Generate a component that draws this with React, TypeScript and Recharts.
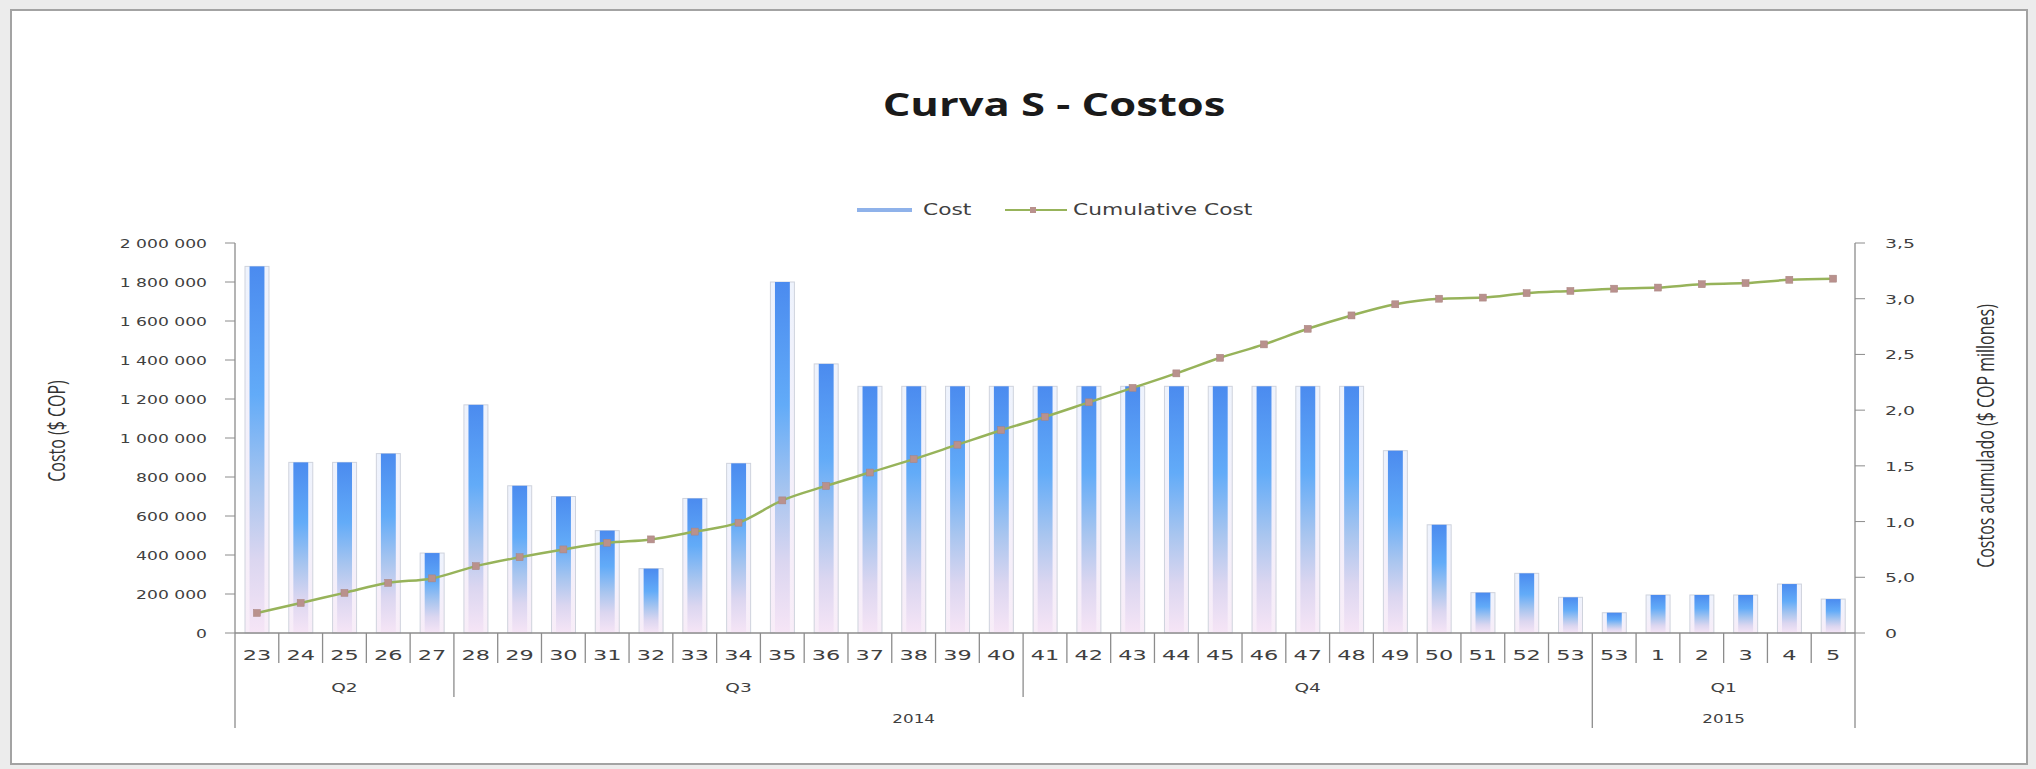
import {
  Bar,
  ComposedChart,
  Legend,
  Line,
  XAxis,
  YAxis,
} from "recharts";

const WEEKS = [
  "23", "24", "25", "26", "27", "28", "29", "30", "31", "32", "33", "34",
  "35", "36", "37", "38", "39", "40", "41", "42", "43", "44", "45", "46",
  "47", "48", "49", "50", "51", "52", "53", "53", "1", "2", "3", "4", "5",
];

const COST = [
  1880000, 875000, 875000, 920000, 410000, 1170000, 755000, 700000, 525000,
  330000, 690000, 870000, 1800000, 1380000, 1265000, 1265000, 1265000,
  1265000, 1265000, 1265000, 1265000, 1265000, 1265000, 1265000, 1265000,
  1265000, 935000, 555000, 207000, 306000, 183000, 104000, 195000, 195000,
  195000, 251000, 174000,
];

// en millones
const CUMULATIVE = [
  0.18, 0.27, 0.36, 0.45, 0.49, 0.6, 0.68, 0.75, 0.81, 0.84, 0.91, 0.99,
  1.19, 1.32, 1.44, 1.56, 1.69, 1.82, 1.94, 2.07, 2.2, 2.33, 2.47, 2.59,
  2.73, 2.85, 2.95, 3.0, 3.01, 3.05, 3.07, 3.09, 3.1, 3.13, 3.14, 3.17, 3.18,
];

const QUARTER_LABELS = ["Q2", "Q3", "Q4", "Q1"];
const QUARTER_SIZES = [5, 13, 13, 6];
const YEAR_LABELS = ["2014", "2015"];
const YEAR_SIZES = [31, 6];

const LEFT_TICKS = [
  0, 200000, 400000, 600000, 800000, 1000000, 1200000, 1400000, 1600000,
  1800000, 2000000,
];
const RIGHT_TICKS = [0, 0.5, 1, 1.5, 2, 2.5, 3, 3.5];
const RIGHT_TICK_LABELS = ["0", "5,0", "1,0", "1,5", "2,0", "2,5", "3,0", "3,5"];

const W = 2036;
const H = 769;
const LEFT_W = 235;
const RIGHT_W = 181;
const PLOT_W = W - LEFT_W - RIGHT_W;
const BAND = PLOT_W / WEEKS.length;

const AXIS = "#8c8c8c";
const TEXT = "#404040";
const MONO = "'DejaVu Sans', Verdana, sans-serif";

const data = WEEKS.map((week, i) => ({
  week,
  cost: COST[i],
  cumulative: CUMULATIVE[i],
}));

// index de début de chaque groupe -> [label, taille]
const groupStarts = (labels: string[], sizes: number[]) => {
  const out: Record<number, [string, number]> = {};
  let acc = 0;
  labels.forEach((l, i) => {
    out[acc] = [l, sizes[i]];
    acc += sizes[i];
  });
  return out;
};
const QUARTER_AT = groupStarts(QUARTER_LABELS, QUARTER_SIZES);
const YEAR_AT = groupStarts(YEAR_LABELS, YEAR_SIZES);

const fmtThousands = (v: number) =>
  String(v).replace(/\B(?=(\d{3})+(?!\d))/g, " ");

const Wide = ({ x, y, sx, size, anchor = "middle", children, ...rest }: any) => (
  <text
    transform={`translate(${x} ${y}) scale(${sx} 1)`}
    textAnchor={anchor}
    fontSize={size}
    fontFamily={MONO}
    fill={TEXT}
    {...rest}
  >
    {children}
  </text>
);

const WeekTick = (props: any) => {
  const { x, y, payload } = props;
  const i = props.index ?? payload.index;
  const left = x - BAND / 2;
  const q = QUARTER_AT[i];
  const yr = YEAR_AT[i];
  const lineLen = yr ? 95 : q ? 64 : 30;
  return (
    <g>
      <line x1={left} x2={left} y1={y} y2={y + lineLen} stroke={AXIS} strokeWidth={1.3} />
      {i === WEEKS.length - 1 && (
        <line x1={x + BAND / 2} x2={x + BAND / 2} y1={y} y2={y + 95} stroke={AXIS} strokeWidth={1.3} />
      )}
      <Wide x={x} y={y + 27} sx={1.6} size={14}>
        {payload.value}
      </Wide>
      {q && (
        <Wide x={left + (q[1] * BAND) / 2} y={y + 59} sx={1.55} size={12}>
          {q[0]}
        </Wide>
      )}
      {yr && (
        <Wide x={left + (yr[1] * BAND) / 2} y={y + 90} sx={1.4} size={12}>
          {yr[0]}
        </Wide>
      )}
    </g>
  );
};

const LeftTick = ({ x, y, payload }: any) => (
  <Wide x={x} y={y + 4.5} sx={1.43} size={12} anchor="end">
    {fmtThousands(payload.value)}
  </Wide>
);

const RightTick = ({ x, y, payload, index }: any) => (
  <Wide x={x} y={y + 5} sx={1.45} size={13} anchor="start">
    {RIGHT_TICK_LABELS[index ?? RIGHT_TICKS.indexOf(payload.value)]}
  </Wide>
);

const BarShape = ({ x, y, width, height }: any) => {
  if (!height || height <= 0) return null;
  const core = width * 0.62;
  return (
    <g>
      <rect x={x} y={y} width={width} height={height} fill="url(#barHalo)" stroke="#cfd3dd" strokeWidth={1} />
      <rect x={x + (width - core) / 2} y={y} width={core} height={height} fill="url(#barFill)" />
    </g>
  );
};

const Marker = ({ cx, cy, index }: any) => (
  <rect key={`m-${index}`} x={cx - 3.5} y={cy - 3.5} width={7} height={7} fill="#b9918d" stroke="#a88480" strokeWidth={0.5} />
);

const LegendContent = () => (
  <svg width={W} height={30}>
    <rect x={857} y={13} width={55} height={4} fill="#8fb2ea" />
    <Wide x={923} y={20} sx={1.45} size={15} anchor="start">
      Cost
    </Wide>
    <line x1={1005} x2={1067} y1={15} y2={15} stroke="#97b35a" strokeWidth={2} />
    <rect x={1030} y={12} width={6} height={6} fill="#b9918d" />
    <Wide x={1073} y={20} sx={1.45} size={15} anchor="start">
      Cumulative Cost
    </Wide>
  </svg>
);

export default function App() {
  return (
    <div
      style={{
        position: "absolute",
        left: 0,
        top: 0,
        width: W,
        height: H,
        background: "#ececec",
      }}
    >
      <div
        style={{
          position: "absolute",
          left: 10,
          top: 9,
          width: 2014,
          height: 752,
          background: "#fff",
          border: "2px solid #a3a3a3",
        }}
      />
      <ComposedChart
        width={W}
        height={H}
        data={data}
        margin={{ top: 243, right: 0, bottom: 36, left: 0 }}
        style={{ position: "absolute", left: 0, top: 0 }}
      >
        <XAxis
          dataKey="week"
          height={100}
          interval={0}
          tickLine={false}
          tickSize={0}
          tickMargin={0}
          axisLine={{ stroke: AXIS, strokeWidth: 1.3 }}
          tick={WeekTick}
        />
        <YAxis
          yAxisId="left"
          width={LEFT_W}
          domain={[0, 2000000]}
          ticks={LEFT_TICKS}
          interval={0}
          tickSize={10}
          tickMargin={18}
          axisLine={{ stroke: AXIS, strokeWidth: 1.3 }}
          tickLine={{ stroke: AXIS }}
          tick={LeftTick}
        />
        <YAxis
          yAxisId="right"
          orientation="right"
          width={RIGHT_W}
          domain={[0, 3.5]}
          ticks={RIGHT_TICKS}
          interval={0}
          tickSize={10}
          tickMargin={20}
          axisLine={{ stroke: AXIS, strokeWidth: 1.3 }}
          tickLine={{ stroke: AXIS }}
          tick={RightTick}
        />
        <Legend
          layout="horizontal"
          verticalAlign="middle"
          align="center"
          wrapperStyle={{ top: 195, left: 0, width: W }}
          content={LegendContent}
        />
        <Bar
          yAxisId="left"
          dataKey="cost"
          name="Cost"
          barSize={24}
          shape={BarShape}
          isAnimationActive={false}
        />
        <Line
          yAxisId="right"
          type="monotone"
          dataKey="cumulative"
          name="Cumulative Cost"
          stroke="#97b35a"
          strokeWidth={2.5}
          dot={Marker}
          activeDot={false}
          isAnimationActive={false}
        />
      </ComposedChart>
      <svg
        width={W}
        height={H}
        style={{ position: "absolute", left: 0, top: 0, pointerEvents: "none" }}
      >
        <defs>
          <linearGradient id="barFill" x1="0" y1="0" x2="0" y2="1">
            <stop offset="0%" stopColor="#4b8bef" />
            <stop offset="35%" stopColor="#62abf8" />
            <stop offset="60%" stopColor="#a8c5ef" />
            <stop offset="80%" stopColor="#dbd6f0" />
            <stop offset="100%" stopColor="#f6e5f6" />
          </linearGradient>
          <linearGradient id="barHalo" x1="0" y1="0" x2="0" y2="1">
            <stop offset="0%" stopColor="#eef3fd" />
            <stop offset="100%" stopColor="#f8edf8" />
          </linearGradient>
        </defs>
        <text
          transform="translate(1054 116) scale(1.36 1)"
          textAnchor="middle"
          fontFamily="'Open Sans', sans-serif"
          fontWeight="bold"
          fontSize={32}
          fill="#1a1a1a"
        >
          Curva S - Costos
        </text>
        <text
          transform="translate(56 431) rotate(-90) scale(1 1.5)"
          textAnchor="middle"
          dominantBaseline="central"
          fontFamily="'Open Sans', sans-serif"
          fontSize={16}
          fill="#333"
        >
          Costo ($ COP)
        </text>
        <text
          transform="translate(1985 436) rotate(-90) scale(1 1.5)"
          textAnchor="middle"
          dominantBaseline="central"
          fontFamily="'Open Sans', sans-serif"
          fontSize={16}
          fill="#333"
        >
          Costos acumulado ($ COP millones)
        </text>
      </svg>
    </div>
  );
}
